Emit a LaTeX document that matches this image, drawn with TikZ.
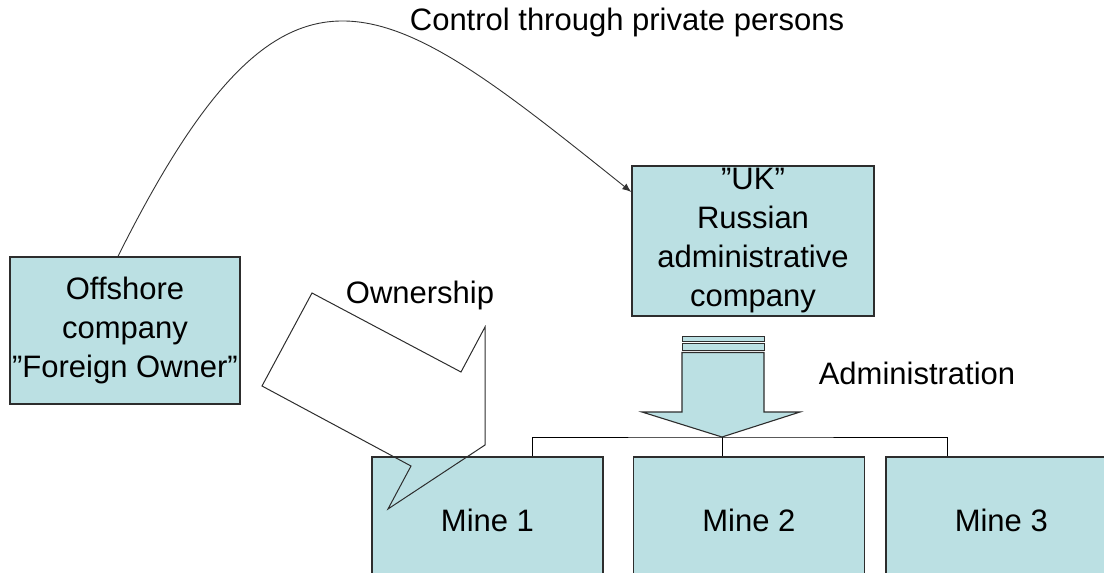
\documentclass[tikz,border=0pt]{standalone}
\usepackage{fontspec}
\setmainfont{Liberation Sans}
\usetikzlibrary{arrows.meta,positioning}
\definecolor{box1}{RGB}{187,224,227}
\definecolor{line1}{RGB}{45,45,45}

\begin{document}
\begin{tikzpicture}[x=1pt,y=-1pt,
    font=\fontsize{31}{39}\selectfont,
    firm/.style={draw=line1, line width=1.4pt, fill=box1, align=center, inner sep=0pt},
    conn/.style={draw=black, line width=0.9pt},
    ctrl/.style={draw=black!80, line width=0.9pt, -{Latex[length=9pt,width=7pt]}}]
    \useasboundingbox (0,0) rectangle (1104,573);
    \clip (0,0) rectangle (1104,573);
    % Companies
    \node[firm, minimum width=230pt, minimum height=147pt] (offshore) at (125,330.5) {Offshore\\company\\”Foreign Owner”};
    \node[firm, minimum width=242pt, minimum height=150pt] (uk) at (753,241) {”UK”\\Russian\\administrative\\company};
    % Mines
    \node[firm, minimum width=231pt, minimum height=126pt] (mine1) at (487.5,520) {Mine 1};
    \node[firm, minimum width=231pt, minimum height=126pt, right=29pt of mine1] (mine2) {Mine 2};
    \node[firm, minimum width=231pt, minimum height=126pt, right=20pt of mine2] (mine3) {Mine 3};
    % Tree
    \coordinate (hub) at (722,437);
    \draw[conn] ([xshift=44.5pt]mine1.north) |- (hub) -| ([xshift=-53.5pt]mine3.north);
    \draw[conn] (hub) -- (hub |- mine2.north);
    % Administration arrow
    \draw[line1, line width=0.8pt, fill=box1] (682,336) rectangle (764,341);
    \draw[line1, line width=0.8pt, fill=box1] (682,343.5) rectangle (764,350);
    \draw[line1, line width=1.1pt, fill=box1] (682,352.5) -- (764,352.5) -- (764,412) -- (800,412) -- (hub) -- (642,412) -- (682,412) -- cycle;
    % Control curve
    \draw[ctrl] ([xshift=-7pt]offshore.north) .. controls +(170,-340) and +(-250,-200) .. ([yshift=49pt]uk.west);
    % Ownership callout
    \draw[line1, line width=1pt] (312,293) -- (461,372) -- (485,327) -- (485,445) -- (388,509) -- (411,466) -- (262,386) -- cycle;
    % Labels
    \node (lblctrl) at (627,22) {Control through private persons};
    \node (lblown) at (420,295) {Ownership};
    \node (lbladm) at (917,373) {Administration};
\end{tikzpicture}
\end{document}
